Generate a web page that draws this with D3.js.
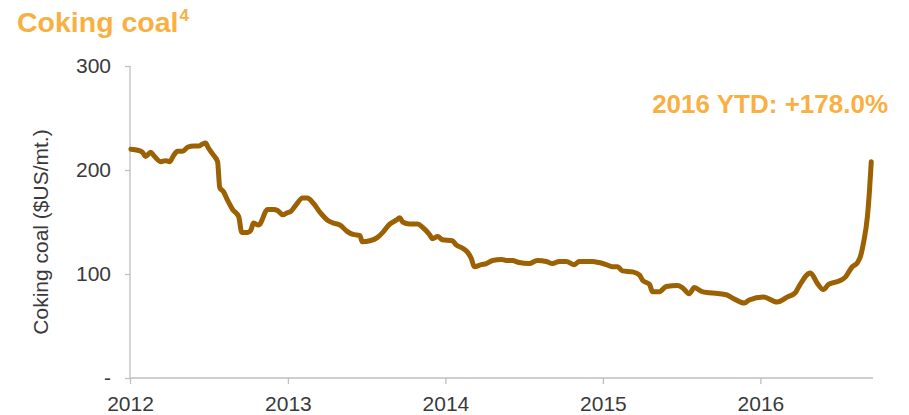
<!DOCTYPE html>
<html>
<head>
<meta charset="utf-8">
<script src="https://cdn.jsdelivr.net/npm/d3@7"></script>
<style>
  body { margin: 0; background: #fff; }
  svg { display: block; font-family: "Liberation Sans", Arial, sans-serif; }
</style>
</head>
<body>
<div id="chart"></div>
<script>
// weekly-ish readings of the coking coal price ($US/mt.)
const dates = [
  "2012-01-03","2012-01-19","2012-01-30","2012-02-06","2012-02-18","2012-02-25","2012-03-12","2012-03-24",
  "2012-04-02","2012-04-11","2012-04-20","2012-05-02","2012-05-14","2012-05-28","2012-06-08","2012-06-17",
  "2012-06-24","2012-07-01","2012-07-13","2012-07-22","2012-07-27","2012-08-05","2012-08-14","2012-08-26",
  "2012-09-09","2012-09-16","2012-09-30","2012-10-07","2012-10-13","2012-10-25","2012-11-15","2012-11-29",
  "2012-12-08","2012-12-20","2012-12-31",
  "2013-01-07","2013-01-19","2013-02-04","2013-02-15","2013-03-01","2013-03-17","2013-04-02","2013-04-16",
  "2013-05-02","2013-05-18","2013-06-01","2013-06-17","2013-06-22","2013-07-10","2013-07-27","2013-08-09",
  "2013-08-25","2013-09-10","2013-09-17","2013-09-24","2013-10-10","2013-10-29","2013-11-09","2013-11-25",
  "2013-12-02","2013-12-14","2013-12-25",
  "2014-01-17","2014-01-26","2014-02-09","2014-02-21","2014-03-02","2014-03-09","2014-03-25","2014-04-06",
  "2014-04-20","2014-05-11","2014-05-22","2014-06-05","2014-06-21","2014-07-14","2014-08-02","2014-08-23",
  "2014-09-06","2014-09-22","2014-10-08","2014-10-27","2014-11-07","2014-12-07","2014-12-23",
  "2015-01-09","2015-01-23","2015-02-04","2015-02-15","2015-03-11","2015-03-27","2015-04-03","2015-04-19",
  "2015-04-26","2015-05-12","2015-05-28","2015-06-23","2015-07-04","2015-07-20","2015-08-01","2015-08-19",
  "2015-09-05","2015-10-14","2015-10-28","2015-11-25","2015-12-06",
  "2016-01-08","2016-02-09","2016-03-04","2016-03-22","2016-03-29","2016-04-26","2016-05-12","2016-05-26",
  "2016-06-07","2016-06-30","2016-07-16","2016-08-01","2016-08-13","2016-08-20","2016-08-27","2016-09-05",
  "2016-09-10","2016-09-14"
];
const prices = [
  220, 219, 217, 213, 217, 214, 208, 209,
  208, 214, 218, 218, 222, 223, 223, 225,
  226, 221, 214, 208, 183, 179, 171, 162,
  155, 140, 140, 142, 149, 147, 162, 162,
  161, 157, 159,
  160, 166, 173, 173, 168, 159, 152, 149,
  147, 141, 138, 137, 131, 132, 135, 140,
  148, 152, 154, 150, 148, 148, 145, 138,
  134, 136, 133,
  132, 128, 125, 121, 115, 107, 109, 110,
  113, 114, 113, 113, 111, 110, 113, 112,
  110, 112, 112, 109, 112, 112, 111,
  109, 107, 107, 103, 102, 99, 94, 90,
  83, 83, 88, 89, 87, 81, 87, 83,
  82, 80, 77, 72, 75,
  78, 73, 78, 82, 87, 101, 91, 85,
  90, 93, 97, 107, 111, 117, 130, 155,
  181, 208
];
const yTicks = [0, 100, 200, 300];
const xTicks = ["2012-01-01", "2013-01-01", "2014-01-01", "2015-01-01", "2016-01-01"];

const WIDTH = 909, HEIGHT = 415;
const ORANGE = "#f9b042", LINE = "#9b6102", AXIS = "#bfbfbf", TEXT = "#3a3a3a";
const parse = d3.timeParse("%Y-%m-%d");
const series = dates.map((d, i) => ({ date: parse(d), value: prices[i] }));

const svg = d3.select("#chart").append("svg")
  .attr("width", WIDTH)
  .attr("height", HEIGHT);

const x = d3.scaleTime()
  .domain([parse("2012-01-01"), parse("2016-09-18")])
  .range([130, 873]);
const y = d3.scaleLinear()
  .domain([0, 300])
  .range([378, 66]);

// title
const title = svg.append("text")
  .attr("x", 17)
  .attr("y", 32)
  .attr("fill", ORANGE)
  .attr("font-size", 28.5)
  .attr("font-weight", "bold")
  .text("Coking coal");
title.append("tspan")
  .attr("font-size", 17)
  .attr("dx", 1)
  .attr("dy", -11)
  .text("4");

// y axis
const yAxis = svg.append("g")
  .attr("transform", "translate(130,0)")
  .call(d3.axisLeft(y).tickValues(yTicks).tickSize(5).tickPadding(14)
    .tickFormat(d => d === 0 ? "-" : d));
yAxis.select(".domain").attr("stroke", AXIS).attr("stroke-width", 1.3).attr("d", "M0,66V378");
yAxis.selectAll(".tick line").attr("stroke", AXIS).attr("stroke-width", 1.3);
yAxis.selectAll(".tick text").attr("fill", TEXT).attr("font-size", 21).attr("font-family", "Liberation Sans, Arial, sans-serif");

// x axis
const xAxis = svg.append("g")
  .attr("transform", "translate(0,378)")
  .call(d3.axisBottom(x).tickValues(xTicks.map(parse)).tickSize(6).tickPadding(12)
    .tickFormat(d3.timeFormat("%Y")));
xAxis.select(".domain").attr("stroke", AXIS).attr("stroke-width", 1.3).attr("d", "M130,0H873");
xAxis.selectAll(".tick line").attr("stroke", AXIS).attr("stroke-width", 1.3);
xAxis.selectAll(".tick text").attr("fill", TEXT).attr("font-size", 21).attr("font-family", "Liberation Sans, Arial, sans-serif");

// y axis title
svg.append("text")
  .attr("transform", "translate(48,232) rotate(-90)")
  .attr("text-anchor", "middle")
  .attr("fill", TEXT)
  .attr("font-size", 21)
  .text("Coking coal ($US/mt.)");

// price line
const line = d3.line()
  .x(d => x(d.date))
  .y(d => y(d.value))
  .curve(d3.curveMonotoneX);

svg.append("path")
  .datum(series)
  .attr("d", line)
  .attr("fill", "none")
  .attr("stroke", LINE)
  .attr("stroke-width", 5)
  .attr("stroke-linejoin", "round")
  .attr("stroke-linecap", "round");

// annotation
svg.append("text")
  .attr("x", 888)
  .attr("y", 113)
  .attr("text-anchor", "end")
  .attr("fill", ORANGE)
  .attr("font-size", 26)
  .attr("font-weight", "bold")
  .text("2016 YTD: +178.0%");
</script>
</body>
</html>
